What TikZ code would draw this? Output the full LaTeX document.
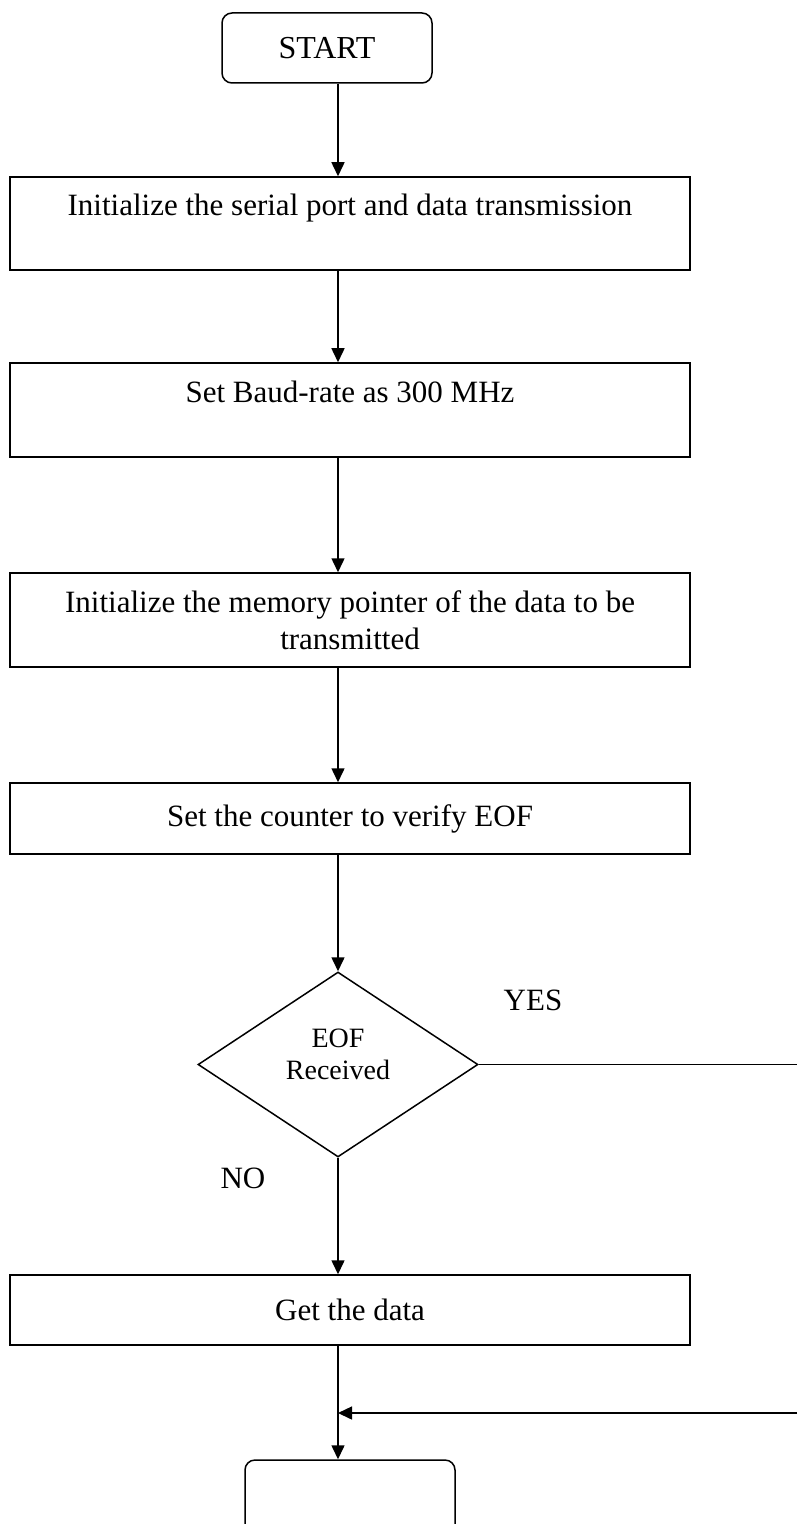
\documentclass[tikz,border=0pt]{standalone}
\usepackage{fontspec}
\setmainfont{Liberation Serif}
\usetikzlibrary{shapes.geometric,arrows.meta}

\begin{document}
\begin{tikzpicture}[
	x=0.5pt, y=-0.5pt,
	line width=0.75pt,
	every node/.style = {
		inner sep=0pt, align=center,
		font=\fontsize{15.5}{18.5}\selectfont},
	proc/.style = {draw, rectangle, minimum width=340pt},
	term/.style = {draw, rectangle, rounded corners=5pt, minimum width=105pt},
	decide/.style = {draw, diamond, minimum width=140pt, minimum height=92.5pt,
		font=\fontsize{14}{16}\selectfont},
	flow/.style = {-{Triangle[length=7pt,width=6.5pt]}}]

	\useasboundingbox (0,0) rectangle (797,1524);
	\coordinate (spine) at (338,0);

	\node[term, minimum height=35pt, font=\fontsize{16}{19}\selectfont] (start) at (327,48) {START};
	\node[proc, minimum height=46.5pt] (init) at (350,223.5)
		{Initialize the serial port and data transmission\\ ~};
	\node[proc, minimum height=47pt] (baud) at (350,410) {Set Baud-rate as 300 MHz\\ ~};
	\node[proc, minimum height=47pt] (mem) at (350,620)
		{Initialize the memory pointer of the data to be\\ transmitted};
	\node[proc, minimum height=35.5pt] (count) at (350,818.5) {Set the counter to verify EOF};
	\node[decide] (dec) at (338,1064.5) {EOF\\ Received\\[-6pt] ~};
	\node[proc, minimum height=35pt] (get) at (350,1310) {Get the data};
	\node[term, minimum height=45pt] (finish) at (350,1505) {};

	\node (yes) at (533,1000) {YES};
	\node (no) at (243,1178) {NO};

	\coordinate (yesend) at (797,1064.5);
	\coordinate (backin) at (797,1413);

	\draw[flow] (start.south -| spine) -- (init.north -| spine);
	\draw[flow] (init.south -| spine) -- (baud.north -| spine);
	\draw[flow] (baud.south -| spine) -- (mem.north -| spine);
	\draw[flow] (mem.south -| spine) -- (count.north -| spine);
	\draw[flow] (count.south -| spine) -- (dec.north);
	\draw[flow] (dec.south) -- (get.north -| spine);
	\draw[flow] (get.south -| spine) -- (finish.north -| spine);
	\draw (dec.east) -- (yesend);
	\draw[flow] (backin) -- (backin -| spine);
\end{tikzpicture}
\end{document}
